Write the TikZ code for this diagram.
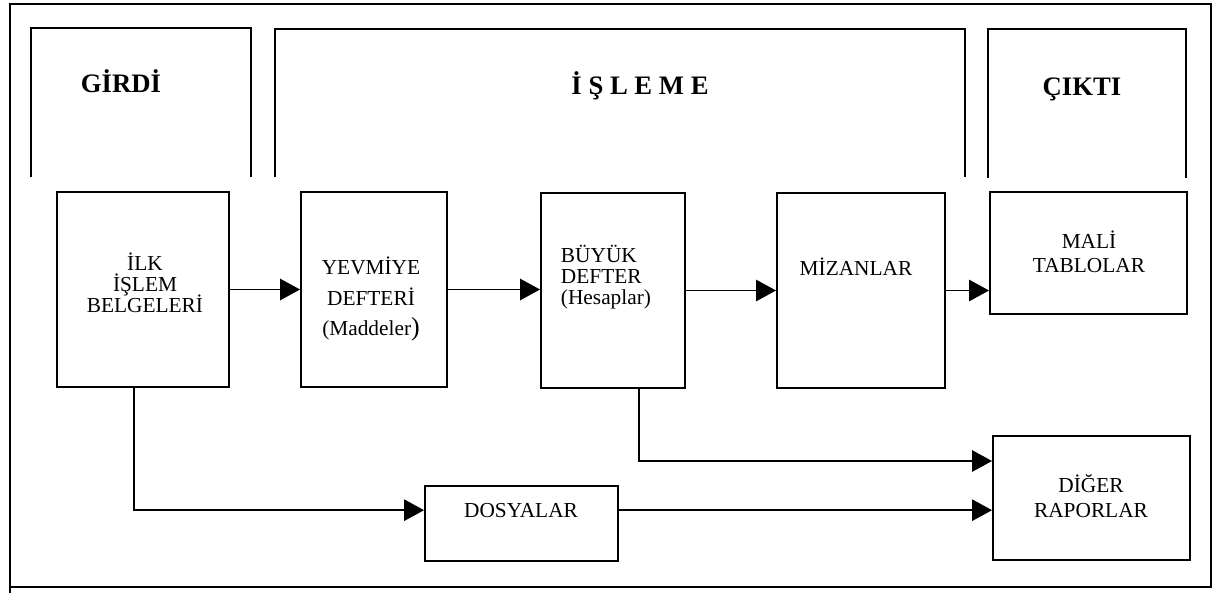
\documentclass[tikz,border=0pt]{standalone}
\usepackage{fontspec}
\setmainfont{Liberation Serif}
\usetikzlibrary{arrows.meta,fit,calc}
\begin{document}
\begin{tikzpicture}[x=0.75pt,y=-0.75pt,
  line width=1.45pt,
  box/.style={draw, line width=1.45pt, inner sep=0pt, rectangle},
  lbl/.style={inner sep=0pt, anchor=base, font=\fontsize{16}{16}\selectfont},
  lblw/.style={lbl, anchor=base west},
  head/.style={inner sep=0pt, anchor=base, font=\fontsize{20}{20}\selectfont\bfseries},
  arr/.style={-{Triangle[length=15pt,width=16pt]}, line width=1.45pt}]
\useasboundingbox (0,0) rectangle (1217,593);

% outer frame
\draw (10,593) -- (10,4) -- (1211,4) -- (1211,587) -- (10,587);

% column headers (open at the bottom)
\draw (31,177) -- (31,28) -- (251,28) -- (251,177);
\draw (275,177) -- (275,29) -- (965,29) -- (965,177);
\draw (988,178) -- (988,29) -- (1186,29) -- (1186,178);
\node[head] (hin)  at (121,92) {GİRDİ};
\node[head] (hpro) at (640,94) {İ Ş L E M E};
\node[head] (hout) at (1082,95) {ÇIKTI};

% process boxes
\node[box, fit={(57,192) (229,387)}] (ilk) {};
\node[box, fit={(301,192) (447,387)}] (yev) {};
\node[box, fit={(541,193) (685,388)}] (byk) {};
\node[box, fit={(777,193) (945,388)}] (miz) {};
\node[box, fit={(990,192) (1187,314)}] (mali) {};
\node[box, fit={(425,486) (618,561)}] (dos) {};
\node[box, fit={(993,436) (1190,560)}] (dig) {};

% box texts
\node[lbl] (ilk1) at (145,270) {İLK};
\node[lbl] (ilk2) at (145,291) {İŞLEM};
\node[lbl] (ilk3) at (145,312) {BELGELERİ};
\node[lbl] (yev1) at (371,274) {YEVMİYE};
\node[lbl] (yev2) at (371,305) {DEFTERİ};
\node[lbl] (yev3) at (371,335) {(Maddeler{\fontsize{19.5}{19.5}\selectfont )}};
\node[lblw] (byk1) at (560,262) {BÜYÜK};
\node[lblw] (byk2) at (560,283) {DEFTER};
\node[lblw] (byk3) at (560,304) {(Hesaplar)};
\node[lbl] (miz1) at (856,275) {MİZANLAR};
\node[lbl] (mal1) at (1089,248) {MALİ};
\node[lbl] (mal2) at (1089,272) {TABLOLAR};
\node[lbl] (dos1) at (521,517) {DOSYALAR};
\node[lbl] (dig1) at (1091,492) {DİĞER};
\node[lbl] (dig2) at (1091,517) {RAPORLAR};

% flow connectors
\draw[arr] (ilk) -- (yev);
\draw[arr] (yev.east) -- (yev.east -| byk.west);
\draw[arr] (byk.east) -- (byk.east -| miz.west);
\draw[arr] (miz.east) -- (miz.east -| mali.west);
\draw[arr] ([xshift=-6.75pt]ilk.south) |- ([yshift=10pt]dos.west);
\draw[arr] ([yshift=10pt]dos.east) -- ([yshift=10pt]dos.east -| dig.west);
\draw[arr] ([xshift=19.5pt]byk.south) |- ([yshift=27.75pt]dig.west);
\end{tikzpicture}
\end{document}
